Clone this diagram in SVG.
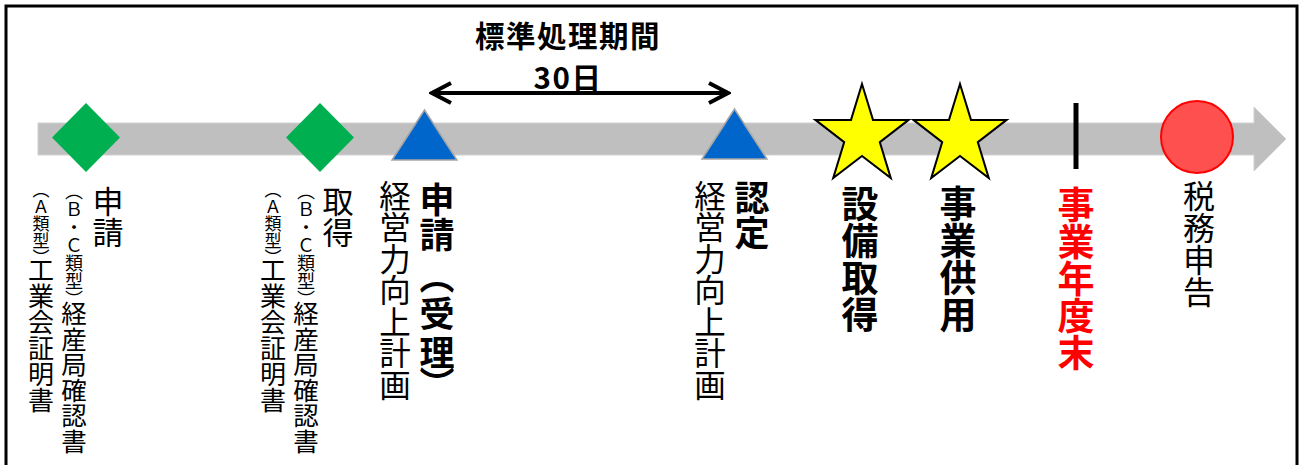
<svg xmlns="http://www.w3.org/2000/svg" width="1303" height="465" viewBox="0 0 1303 465">
<style>
.v{font-family:"Noto Sans CJK JP","Noto Sans CJK SC",sans-serif;writing-mode:vertical-rl;fill:#000}
.b{font-weight:bold}
.h{font-family:"Noto Sans CJK JP","Noto Sans CJK SC",sans-serif;font-weight:bold;text-anchor:middle;fill:#000;letter-spacing:1.5px}
.dia{fill:#00b050}
.tri{fill:#0066cc;stroke:#a6a6a6;stroke-width:1.5}
.star{fill:#ffff00;stroke:#000;stroke-width:2}
</style>
<defs>
<polygon id="diamond" points="0,-34.5 34,0 0,34.5 -34,0"/>
<polygon id="triangle" points="0,-50 32.5,0 -32.5,0"/>
<polygon id="starShape" points="0,-52 11,-16.1 46.6,-16.1 17.8,6.1 28.8,42.1 0,19.9 -28.8,42.1 -17.8,6.1 -46.6,-16.1 -11,-16.1"/>
<marker id="chev" markerUnits="userSpaceOnUse" viewBox="0 0 24 24" refX="21" refY="12" markerWidth="24" markerHeight="24" orient="auto-start-reverse">
<path d="M2,2 L21,12 L2,22" fill="none" stroke="#000" stroke-width="4" stroke-linejoin="miter"/>
</marker>
</defs>
<rect width="1303" height="465" fill="#fff"/>
<rect x="6" y="6" width="1291" height="470" fill="none" stroke="#000" stroke-width="3"/>

<g id="timeline">
<path d="M38,123 H1254 V107 L1286,139 L1254,171 V155 H38 Z" fill="#bfbfbf" stroke="#d0d0d0" stroke-width="1"/>
</g>

<g id="connectors">
<line x1="432" y1="93" x2="728" y2="93" stroke="#000" stroke-width="4" marker-start="url(#chev)" marker-end="url(#chev)"/>
</g>

<g id="period-label">
<text class="h" x="568" y="46.5" font-size="29.5">標準処理期間</text>
<text class="h" x="568" y="89" font-size="29.5">30日</text>
</g>

<g id="node-cert-apply">
<use href="#diamond" class="dia" x="86" y="137.5"/>
<text class="v" x="41" y="181" font-size="26"><tspan font-size="17">（Ａ類型）</tspan><tspan y="257">工業会証明書</tspan></text>
<text class="v" x="74" y="182" font-size="25.5"><tspan font-size="18">（Ｂ・Ｃ類型）</tspan><tspan y="301">経産局確認書</tspan></text>
<text class="v" x="108" y="186" font-size="31">申請</text>
</g>

<g id="node-cert-get">
<use href="#diamond" class="dia" x="320" y="137.5"/>
<text class="v" x="273" y="181" font-size="26"><tspan font-size="17">（Ａ類型）</tspan><tspan y="257">工業会証明書</tspan></text>
<text class="v" x="306" y="182" font-size="25.5"><tspan font-size="18">（Ｂ・Ｃ類型）</tspan><tspan y="301">経産局確認書</tspan></text>
<text class="v" x="338" y="186" font-size="31">取得</text>
</g>

<g id="node-plan-apply">
<use href="#triangle" class="tri" x="424.5" y="160"/>
<text class="v" x="395" y="180" font-size="31.5">経営力向上計画</text>
<text class="v b" x="437" y="182" font-size="35"><tspan>申請</tspan><tspan y="259">（</tspan><tspan y="296">受</tspan><tspan y="335">理</tspan><tspan y="366">）</tspan></text>
</g>

<g id="node-plan-approve">
<use href="#triangle" class="tri" x="734.5" y="159"/>
<text class="v" x="710" y="180" font-size="31.5">経営力向上計画</text>
<text class="v b" x="752" y="180" font-size="35">認定</text>
</g>

<g id="node-equip">
<use href="#starShape" class="star" x="862" y="136"/>
<text class="v b" x="860" y="185" font-size="37">設備取得</text>
</g>

<g id="node-use">
<use href="#starShape" class="star" x="960" y="136"/>
<text class="v b" x="958" y="185" font-size="37">事業供用</text>
</g>

<g id="node-yearend">
<line x1="1076" y1="103" x2="1076" y2="169" stroke="#000" stroke-width="5"/>
<text class="v b" x="1076" y="186" font-size="37" style="fill:#ff0000">事業年度末</text>
</g>

<g id="node-tax">
<circle cx="1197" cy="137" r="36" fill="#ff5050" stroke="#ff0000" stroke-width="2"/>
<text class="v" x="1199" y="180" font-size="32">税務申告</text>
</g>
</svg>
